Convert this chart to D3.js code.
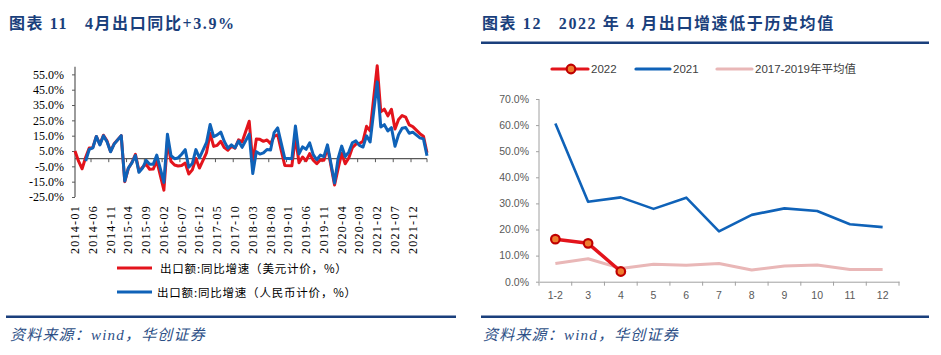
<!DOCTYPE html>
<html><head><meta charset="utf-8">
<script src="https://cdn.jsdelivr.net/npm/d3@7"></script>
<style>
body{margin:0;background:#fff;}
svg{display:block;}
</style></head><body>
<svg id="c" width="941" height="355"></svg>
<script>
// ---------- DATA: left chart ----------
const monthCats = [];
for (let y = 2014; y <= 2022; y++) for (let m = 1; m <= 12; m++) {
  if (y === 2022 && m > 4) break;
  monthCats.push(y + "-" + String(m).padStart(2, "0"));
}
const xTickLabels = ["2014-01","2014-06","2014-11","2015-04","2015-09","2016-02","2016-07","2016-12",
  "2017-05","2017-10","2018-03","2018-08","2019-01","2019-06","2019-11","2020-04","2020-09",
  "2021-02","2021-07","2021-12"];
// January values not published separately (Jan–Feb combined shown at Feb); empty cells are bridged
const exportUSD = [
  5.0, -1.6, -6.6, 0.9, 7.0, 7.2, 14.5, 9.4, 15.3, 11.6, 4.7, 9.7,
  null, 15.0, -15.0, -6.4, -2.5, 2.8, -8.3, -5.5, -3.7, -6.9, -6.8, -1.4,
  null, -20.5, 11.5, -1.8, -4.1, -4.8, -4.4, -2.8, -10.0, -7.3, 0.1, -6.1,
  null, 4.0, 16.4, 8.0, 8.7, 11.3, 7.2, 5.5, 8.1, 6.9, 12.3, 10.9,
  null, 24.4, -2.7, 12.9, 12.6, 11.3, 12.2, 9.8, 14.5, 15.6, 5.4, -4.4,
  null, -4.6, 14.2, -2.7, 1.1, -1.3, 3.3, -1.0, -3.2, -0.9, -1.1, 7.6,
  null, -17.2, -6.6, 3.5, -3.3, 0.5, 7.2, 9.5, 9.9, 11.4, 21.1, 18.1,
  null, 60.6, 30.6, 32.3, 27.9, 32.2, 19.3, 25.6, 28.1, 27.1, 22.0, 20.9,
  null, 16.3, 14.7, 3.9
];
const exportRMB = [
  null, null, null, -1.5, 6.0, 7.0, 14.5, 9.0, 15.0, 11.0, 4.5, 9.5,
  null, 15.0, -14.6, -6.2, -2.8, 2.1, -8.9, -6.1, -1.1, -3.6, -3.7, 2.3,
  null, -15.5, 16.0, 2.0, 0.0, 0.5, 2.9, 5.9, -5.6, -3.2, 5.9, 0.6,
  null, 10.6, 22.3, 14.3, 15.5, 17.3, 11.2, 6.9, 9.0, 7.1, 11.5, 7.4,
  null, 16.0, -9.7, 4.6, 3.0, 3.8, 6.0, 5.7, 17.0, 20.1, 10.1, 0.2,
  null, 0.0, 21.3, 3.1, 7.7, 6.1, 10.3, 2.6, -0.7, 2.3, 1.3, 9.0,
  null, -15.9, 0.2, 8.2, 1.4, 4.3, 10.4, 11.6, 8.7, 7.6, 14.9, 10.9,
  null, 50.1, 20.7, 22.2, 18.1, 20.2, 8.1, 15.7, 19.9, 20.3, 16.6, 17.3,
  null, 13.6, 12.9, 1.9
];
const leftYTicks = [-25, -15, -5, 5, 15, 25, 35, 45, 55];
const leftSeriesNames = ["出口额:同比增速（美元计价，%）", "出口额:同比增速（人民币计价，%）"];

// ---------- DATA: right chart ----------
const monthGroups = ["1-2","3","4","5","6","7","8","9","10","11","12"];
const growth2022 = [16.3, 14.7, 3.9];
const growth2021 = [60.6, 30.6, 32.3, 27.9, 32.2, 19.3, 25.6, 28.1, 27.1, 22.0, 20.9];
const avg2017to2019 = [7.0, 8.8, 5.1, 6.7, 6.3, 7.0, 4.5, 6.0, 6.4, 4.7, 4.7];
const rightYTicks = [0, 10, 20, 30, 40, 50, 60, 70];
const rightSeriesNames = ["2022", "2021", "2017-2019年平均值"];

// ---------- STYLE ----------
const NAVY = "#1a3f7c";
const RED = "#e3141c";
const BLUE = "#0f62b8";
const PINK = "#e9b7b7";
const serif = "'Liberation Serif','Times New Roman','Noto Sans CJK SC',serif";
const sans = "'Liberation Sans',Arial,'Noto Sans CJK SC',sans-serif";

const svg = d3.select("#c");

// ---------- titles & rules ----------
svg.append("text").attr("x", 9).attr("y", 29)
  .attr("font-family", serif).attr("font-weight", "bold").attr("font-size", 16)
  .attr("letter-spacing", "1.6px").attr("fill", NAVY).style("white-space", "pre")
  .text("图表 11   4月出口同比+3.9%");
svg.append("text").attr("x", 482).attr("y", 29)
  .attr("font-family", serif).attr("font-weight", "bold").attr("font-size", 16)
  .attr("letter-spacing", "1.6px").attr("fill", NAVY).style("white-space", "pre")
  .text("图表 12   2022 年 4 月出口增速低于历史均值");
svg.append("rect").attr("x", 481).attr("y", 41.5).attr("width", 448).attr("height", 2.5).attr("fill", NAVY);
svg.append("rect").attr("x", 6).attr("y", 315.5).attr("width", 450).attr("height", 2.5).attr("fill", NAVY);
svg.append("rect").attr("x", 481).attr("y", 315.5).attr("width", 448).attr("height", 2.5).attr("fill", NAVY);
[10, 483].forEach(x => {
  svg.append("text").attr("x", x).attr("y", 340)
    .attr("font-family", serif).attr("font-style", "italic").attr("font-size", 15)
    .attr("letter-spacing", "1.2px").attr("fill", "#2d4f86")
    .text("资料来源：wind，华创证券");
});

// ---------- LEFT CHART ----------
const L = svg.append("g");
const xL = d3.scalePoint().domain(monthCats).range([75, 427]);
const yL = d3.scaleLinear().domain([-25, 60]).range([197, 66.7]);
const stepL = xL.step();
const lastX = xL(monthCats[monthCats.length - 1]);

// y axis
const yAxisL = d3.axisLeft(yL).tickValues(leftYTicks).tickSize(3).tickPadding(8)
  .tickFormat(d => d.toFixed(1) + "%");
const gyL = L.append("g").attr("transform", "translate(75,0)").call(yAxisL);
gyL.select(".domain").attr("stroke", "#595959").attr("stroke-width", 1.2)
  .attr("d", `M-0,${yL(60)}V${yL(-25)}`);
gyL.selectAll(".tick line").attr("stroke", "#595959");
gyL.selectAll(".tick text").attr("font-family", serif).attr("font-size", 12).attr("fill", "#000");

// x axis at zero
const y0 = yL(0);
L.append("line").attr("x1", 75).attr("x2", lastX)
  .attr("y1", y0).attr("y2", y0).attr("stroke", "#595959").attr("stroke-width", 1.2);
const tickIdx = d3.range(4, monthCats.length, 5);
L.selectAll("line.xt").data(tickIdx).join("line").attr("class", "xt")
  .attr("x1", i => Math.min(xL(monthCats[i]) + stepL / 2, lastX))
  .attr("x2", i => Math.min(xL(monthCats[i]) + stepL / 2, lastX))
  .attr("y1", y0).attr("y2", y0 + 3.5).attr("stroke", "#595959").attr("stroke-width", 1);
L.selectAll("text.xl").data(xTickLabels).join("text").attr("class", "xl")
  .attr("transform", d => `translate(${xL(d) + 4},205) rotate(-90)`)
  .attr("text-anchor", "end").attr("font-family", serif).attr("font-size", 12)
  .attr("letter-spacing", "1.3px").attr("fill", "#000").text(d => d);

// lines (empty cells bridged, as the source chart does)
const lineL = d3.line().x(d => xL(d.m)).y(d => yL(d.v));
[[exportUSD, RED], [exportRMB, BLUE]].forEach(([arr, col]) => {
  const pts = monthCats.map((m, i) => ({ m, v: arr[i] })).filter(d => d.v != null);
  L.append("path").datum(pts)
    .attr("d", lineL).attr("fill", "none").attr("stroke", col)
    .attr("stroke-width", 3).attr("stroke-linejoin", "round");
});

// legend
[[RED, 268, 160], [BLUE, 292, 157]].forEach(([col, y, tx], k) => {
  L.append("line").attr("x1", 117).attr("x2", 152).attr("y1", y).attr("y2", y)
    .attr("stroke", col).attr("stroke-width", 3);
  L.append("text").attr("x", tx).attr("y", y + 4.5).attr("font-family", "'Noto Sans CJK SC',sans-serif")
    .attr("font-size", 11.5).attr("letter-spacing", "0.8px").attr("fill", "#000").text(leftSeriesNames[k]);
});

// ---------- RIGHT CHART ----------
const R = svg.append("g");
const xR = d3.scaleBand().domain(monthGroups).range([539, 899]);
const yR = d3.scaleLinear().domain([0, 70]).range([281.7, 99]);
const cx = d => xR(d) + xR.bandwidth() / 2;

const yAxisR = d3.axisLeft(yR).tickValues(rightYTicks).tickSize(3).tickPadding(7)
  .tickFormat(d => d.toFixed(1) + "%");
const gyR = R.append("g").attr("transform", "translate(539,0)").call(yAxisR);
gyR.select(".domain").attr("stroke", "#a0a0a0").attr("d", `M0,${yR(70)}V${yR(0)}`);
gyR.selectAll(".tick line").attr("stroke", "#a0a0a0");
gyR.selectAll(".tick text").attr("font-family", sans).attr("font-size", 10.5).attr("fill", "#595959");

const xAxisR = d3.axisBottom(xR).tickSize(0).tickPadding(10);
const gxR = R.append("g").attr("transform", `translate(0,${yR(0)})`).call(xAxisR);
gxR.select(".domain").attr("stroke", "#a0a0a0");
gxR.selectAll(".tick text").attr("font-family", sans).attr("font-size", 10.5).attr("fill", "#595959");
R.selectAll("line.bt").data(monthGroups.concat(["__end"])).join("line").attr("class", "bt")
  .attr("x1", (d, i) => i < monthGroups.length ? xR(d) : xR.range()[1])
  .attr("x2", (d, i) => i < monthGroups.length ? xR(d) : xR.range()[1])
  .attr("y1", yR(0)).attr("y2", yR(0) + 4).attr("stroke", "#a0a0a0");

const lineR = d3.line().x(d => cx(d.c)).y(d => yR(d.v));
const mk = arr => arr.map((v, i) => ({ c: monthGroups[i], v }));
R.append("path").datum(mk(avg2017to2019)).attr("d", lineR).attr("fill", "none")
  .attr("stroke", PINK).attr("stroke-width", 3).attr("stroke-linejoin", "round");
R.append("path").datum(mk(growth2021)).attr("d", lineR).attr("fill", "none")
  .attr("stroke", BLUE).attr("stroke-width", 2.6).attr("stroke-linejoin", "round");
R.append("path").datum(mk(growth2022)).attr("d", lineR).attr("fill", "none")
  .attr("stroke", RED).attr("stroke-width", 3.5).attr("stroke-linejoin", "round");
R.selectAll("circle.m").data(mk(growth2022)).join("circle").attr("class", "m")
  .attr("cx", d => cx(d.c)).attr("cy", d => yR(d.v)).attr("r", 4.3)
  .attr("fill", "#ee7d2f").attr("stroke", "#c00000").attr("stroke-width", 2.2);

// legend right
const legR = [[RED, 552, 588, 591], [BLUE, 636, 670, 673], [PINK, 717, 752, 755]];
legR.forEach(([col, x1, x2, tx], k) => {
  R.append("line").attr("x1", x1).attr("x2", x2).attr("y1", 69).attr("y2", 69)
    .attr("stroke", col).attr("stroke-width", 3.2).attr("stroke-linecap", "round");
  if (k === 0) R.append("circle").attr("cx", (x1 + x2) / 2 + 1).attr("cy", 69).attr("r", 4.3)
    .attr("fill", "#ee7d2f").attr("stroke", "#c00000").attr("stroke-width", 2.2);
  R.append("text").attr("x", tx).attr("y", 73).attr("font-family", sans).attr("font-size", 11.5)
    .attr("fill", "#404040").text(rightSeriesNames[k]);
});
</script>
</body></html>
